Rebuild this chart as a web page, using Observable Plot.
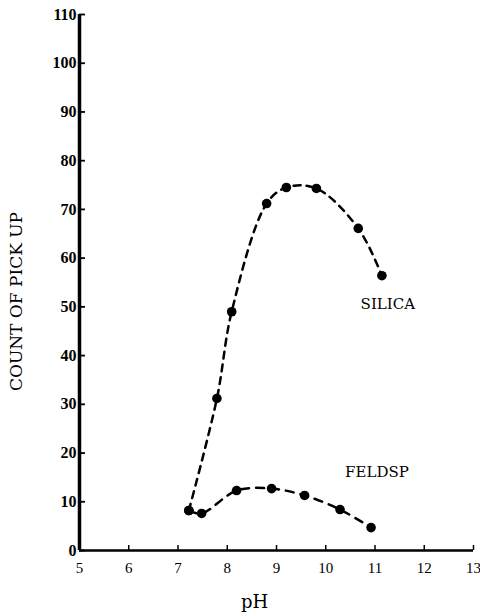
<!DOCTYPE html>
<html><head><meta charset="utf-8">
<script src="https://cdn.jsdelivr.net/npm/d3@7"></script>
<script src="https://cdn.jsdelivr.net/npm/@observablehq/plot@0.6"></script>
<style>body{margin:0;background:#fff}</style>
</head><body><div id="chart"></div>
<script>
const silicaPH    = [7.22, 7.79, 8.09, 8.80, 9.20, 9.81, 10.66, 11.14];
const silicaCount = [8.2, 31.2, 49.0, 71.2, 74.5, 74.3, 66.1, 56.4];
const feldspPH    = [7.22, 7.48, 8.19, 8.90, 9.57, 10.29, 10.92];
const feldspCount = [8.2, 7.6, 12.3, 12.7, 11.3, 8.4, 4.7];
const xTicks = [5, 6, 7, 8, 9, 10, 11, 12, 13];
const yTicks = [0, 10, 20, 30, 40, 50, 60, 70, 80, 90, 100, 110];
const seriesNames = ["SILICA", "FELDSP"];
const labelPH = [11.26, 11.04];
const labelCount = [50.6, 16.0];

const silica = silicaPH.map((x, i) => ({x, y: silicaCount[i]}));
const feldsp = feldspPH.map((x, i) => ({x, y: feldspCount[i]}));
const labels = seriesNames.map((t, i) => ({t, x: labelPH[i], y: labelCount[i]}));

const serif = "'DejaVu Serif', 'Liberation Serif', serif";
const chart = Plot.plot({
  width: 480, height: 616,
  marginLeft: 79, marginRight: 7, marginTop: 14, marginBottom: 66,
  style: {fontFamily: "'Liberation Serif', 'DejaVu Serif', serif", background: "#fff", color: "#000"},
  x: {domain: [5, 13]},
  y: {domain: [0, 110]},
  marks: [
    Plot.axisY({ticks: yTicks, tickSize: -6, tickPadding: 9, strokeWidth: 1.8, fontSize: 16, fontWeight: "bold", label: null}),
    Plot.axisX({ticks: xTicks, tickSize: -5, tickPadding: 17, strokeWidth: 1.5, fontSize: 15, label: null}),
    Plot.ruleX([5], {stroke: "#000", strokeWidth: 3.5}),
    Plot.ruleY([0], {stroke: "#000", strokeWidth: 2.5}),
    Plot.line(silica, {x: "x", y: "y", curve: "catmull-rom", stroke: "#000", strokeWidth: 2.5, strokeDasharray: "7,6"}),
    Plot.line(feldsp, {x: "x", y: "y", curve: "catmull-rom", stroke: "#000", strokeWidth: 2.5, strokeDasharray: "8,7"}),
    Plot.dot(silica, {x: "x", y: "y", r: 4.8, fill: "#000"}),
    Plot.dot(feldsp, {x: "x", y: "y", r: 4.8, fill: "#000"}),
    Plot.text(labels, {x: "x", y: "y", text: "t", fontFamily: serif, fontSize: 15, letterSpacing: 2, fill: "#000"}),
    Plot.text(["COUNT OF PICK UP"], {frameAnchor: "left", textAnchor: "middle", dx: -63, dy: 19, rotate: -90, fontFamily: serif, fontSize: 17, letterSpacing: 2.5, fill: "#000"}),
    Plot.text(["pH"], {frameAnchor: "bottom", dx: -22, dy: 57, fontFamily: serif, fontSize: 18, fill: "#000"})
  ]
});
document.getElementById("chart").appendChild(chart);
</script>
</body></html>
